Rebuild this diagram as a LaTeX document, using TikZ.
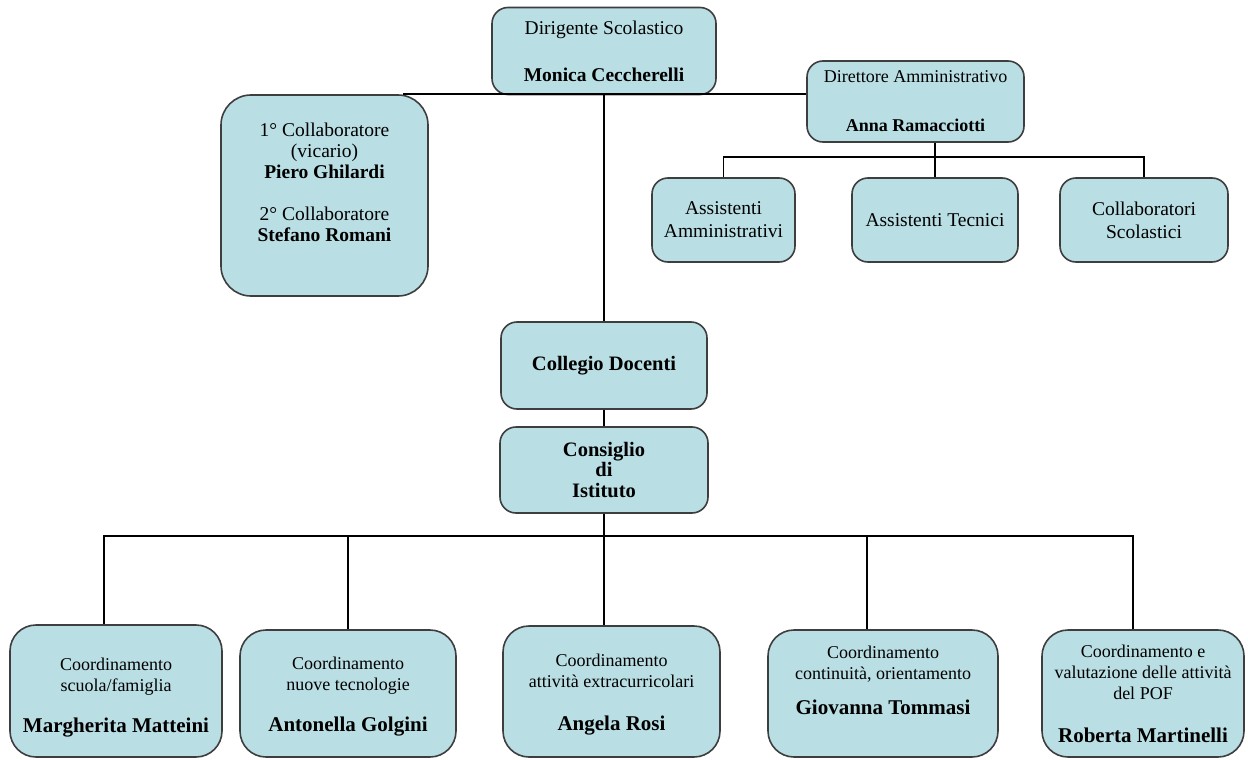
\documentclass[tikz,border=0pt]{standalone}
\usepackage{fontspec}
\setmainfont{Liberation Serif}
\definecolor{boxfill}{RGB}{185,222,228}
\definecolor{boxline}{RGB}{62,62,62}
\begin{document}
\begin{tikzpicture}[x=1pt,y=-1pt,
    ente/.style={draw=boxline, fill=boxfill, line width=1.6pt, rounded corners=16pt, align=center, inner sep=0pt},
    big/.style={font=\fontsize{19.5}{21}\selectfont},
    small/.style={font=\fontsize{18}{21}\selectfont},
    heavy/.style={font=\fontsize{20.5}{20.5}\selectfont\bfseries},
    filo/.style={line width=1.6pt, black}]
\useasboundingbox (0,0) rectangle (1248,760);
\fill[white] (0,0) rectangle (1248,760);

\node[ente, big, minimum width=224pt, minimum height=87pt] (dirigente) at (604,51) {Dirigente Scolastico\\[26pt]\textbf{Monica Ceccherelli}};
\node[ente, big, rounded corners=30pt, minimum width=207pt, minimum height=201pt] (vicari) at (324.5,195.5) {1° Collaboratore\\(vicario)\\\textbf{Piero Ghilardi}\\[21pt]2° Collaboratore\\\textbf{Stefano Romani}\\\strut};
\node[ente, small, minimum width=217pt, minimum height=81pt] (dsga) at (915.5,101.5) {Direttore Amministrativo\\[28pt]\textbf{Anna Ramacciotti}};
\node[ente, big, minimum width=143pt, minimum height=84pt] (assamm) at (723.5,220) {Assistenti\\[2pt]Amministrativi};
\node[ente, big, minimum width=166pt, minimum height=84pt] (asstec) at (935,220) {Assistenti Tecnici};
\node[ente, big, minimum width=168pt, minimum height=84pt] (collscol) at (1144,220) {Collaboratori\\[2pt]Scolastici};
\node[ente, heavy, minimum width=206pt, minimum height=87pt] (collegio) at (604,365.5) {Collegio Docenti};
\node[ente, heavy, minimum width=208pt, minimum height=86pt] (consiglio) at (604,470) {Consiglio\\di\\Istituto};

\node[ente, small, rounded corners=26pt, minimum width=212pt, minimum height=132pt] (coord1) at (116,691) {\rule{0pt}{25pt}Coordinamento\\scuola/famiglia\\[20pt]{\fontsize{21}{21}\selectfont\bfseries Margherita Matteini}};
\node[ente, small, rounded corners=26pt, minimum width=216pt, minimum height=127pt] (coord2) at (348,693.5) {\rule{0pt}{19pt}Coordinamento\\nuove tecnologie\\[20pt]{\fontsize{21}{21}\selectfont\bfseries Antonella Golgini}};
\node[ente, small, rounded corners=26pt, minimum width=217pt, minimum height=131pt] (coord3) at (611.5,691.5) {\rule{0pt}{19pt}Coordinamento\\attività extracurricolari\\[22pt]{\fontsize{21}{21}\selectfont\bfseries Angela Rosi}};
\node[ente, small, rounded corners=26pt, minimum width=230pt, minimum height=127pt] (coord4) at (883,693.5) {Coordinamento\\continuità, orientamento\\[14pt]{\fontsize{21}{21}\selectfont\bfseries Giovanna Tommasi}\\\strut};
\node[ente, small, rounded corners=26pt, minimum width=202pt, minimum height=127pt] (coord5) at (1143,693.5) {Coordinamento e\\valutazione delle attività\\del POF\\[22pt]{\fontsize{21}{21}\selectfont\bfseries Roberta Martinelli}};

\coordinate (busA) at (0,157);
\coordinate (busB) at (0,536);
\draw[filo] (dirigente.south) -- (collegio.north);
\draw[filo] ([xshift=-26pt]vicari.north east) -- (vicari.north east -| dsga.west);
\draw[filo] (dsga.south -| asstec.north) -- (asstec.north);
\draw[filo] (assamm.north) -- (assamm.north |- busA) -- (collscol.north |- busA) -- (collscol.north);
\draw[filo] (collegio.south) -- (consiglio.north);
\draw[filo] (consiglio.south) -- (consiglio.south |- busB);
\draw[filo] ([xshift=-12pt]coord1.north) -- ([xshift=-12pt]coord1.north |- busB) -- ([xshift=-10pt]coord5.north |- busB) -- ([xshift=-10pt]coord5.north);
\foreach \b/\d in {coord2/0, coord3/-7.5, coord4/-16}
  \draw[filo] ([xshift=\d pt]\b.north) -- ([xshift=\d pt]\b.north |- busB);
\end{tikzpicture}
\end{document}
